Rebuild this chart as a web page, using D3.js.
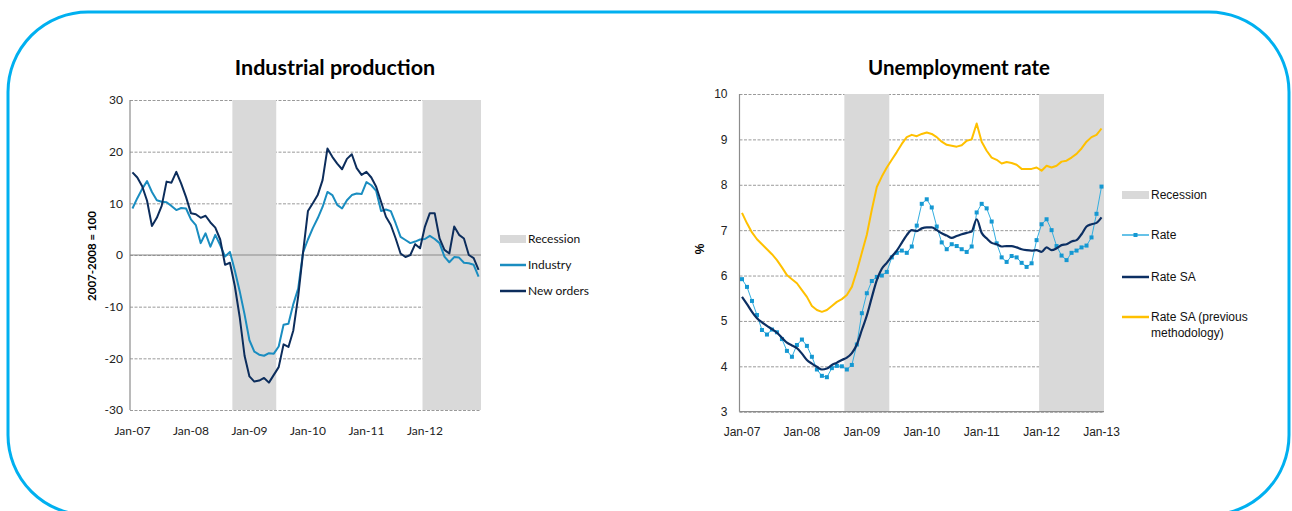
<!DOCTYPE html>
<html>
<head>
<meta charset="utf-8">
<script src="https://cdn.jsdelivr.net/npm/d3@7"></script>
<style>
  html, body { margin: 0; padding: 0; background: #fff; }
  svg { display: block; }
</style>
</head>
<body>
<svg id="chart" width="1292" height="511"></svg>
<script>
// ---- data ----
// Industrial production, 2007-2008 = 100, monthly Jan-07 .. Dec-12
var industry = [
  9.0, 11.0, 12.8, 14.3, 12.2, 10.6, 10.3, 10.2, 9.5, 8.7, 9.1, 9.0,
  6.9, 5.8, 2.3, 4.2, 1.6, 3.9, 1.9, -0.3, 0.6, -3.0, -7.0, -11.5,
  -16.5, -18.7, -19.3, -19.5, -19.0, -19.1, -17.7, -13.5, -13.3, -9.5, -6.5, 0.5,
  3.0, 5.2, 7.1, 9.3, 12.2, 11.6, 9.7, 9.0, 10.6, 11.6, 11.9, 11.8,
  14.1, 13.5, 12.4, 8.5, 8.8, 8.5, 6.1, 3.5, 2.9, 2.3, 2.6, 3.0,
  3.1, 3.7, 3.1, 2.3, -0.3, -1.4, -0.4, -0.5, -1.5, -1.6, -1.9, -4.2
];
var newOrders = [
  16.0, 15.0, 13.3, 10.5, 5.6, 7.2, 9.5, 14.2, 14.0, 16.1, 13.8, 11.2,
  8.1, 7.9, 7.2, 7.6, 6.3, 5.3, 3.0, -1.9, -1.5, -6.0, -12.0, -19.5,
  -23.5, -24.5, -24.3, -23.8, -24.7, -23.2, -21.7, -17.3, -17.8, -14.6, -8.0, 0.5,
  8.5, 10.0, 11.6, 14.5, 20.6, 19.0, 17.7, 16.6, 18.6, 19.5, 16.8, 15.5,
  16.1, 15.0, 13.2, 10.3, 7.4, 5.8, 3.2, 0.3, -0.4, 0.0, 2.1, 1.3,
  5.5, 8.1, 8.1, 3.2, 1.0, 0.3, 5.5, 3.9, 3.2, 0.0, -0.6, -2.9
];

// Unemployment rate, %, monthly Jan-07 .. Jan-13
var rate = [
  5.92, 5.75, 5.44, 5.13, 4.80, 4.70, 4.81, 4.75, 4.60, 4.34, 4.21, 4.47,
  4.59, 4.45, 4.21, 3.93, 3.79, 3.76, 3.96, 4.01, 4.00, 3.93, 4.03, 4.48,
  5.17, 5.61, 5.88, 5.97, 6.00, 6.08, 6.40, 6.50, 6.55, 6.50, 6.64, 7.10,
  7.58, 7.68, 7.50, 7.08, 6.73, 6.58, 6.69, 6.65, 6.58, 6.52, 6.64, 7.39,
  7.58, 7.48, 7.19, 6.71, 6.40, 6.30, 6.43, 6.40, 6.28, 6.19, 6.27, 6.78,
  7.13, 7.24, 7.00, 6.65, 6.44, 6.34, 6.50, 6.55, 6.62, 6.66, 6.84, 7.36,
  7.96
];
var rateSA = [
  5.53, 5.37, 5.20, 5.06, 4.97, 4.89, 4.82, 4.74, 4.63, 4.52, 4.46, 4.40,
  4.28, 4.14, 4.06, 3.99, 3.93, 3.95, 4.03, 4.08, 4.14, 4.19, 4.29, 4.48,
  4.80, 5.12, 5.52, 5.90, 6.15, 6.28, 6.42, 6.55, 6.72, 6.89, 7.00, 6.98,
  7.04, 7.06, 7.06, 7.00, 6.93, 6.88, 6.83, 6.87, 6.91, 6.94, 6.97, 7.24,
  6.94, 6.82, 6.72, 6.69, 6.64, 6.65, 6.65, 6.62, 6.58, 6.56, 6.55, 6.56,
  6.52, 6.62, 6.56, 6.60, 6.67, 6.69, 6.75, 6.78, 6.91, 7.08, 7.13, 7.16,
  7.28
];
var rateSAPrev = [
  7.38, 7.15, 6.95, 6.80, 6.69, 6.58, 6.47, 6.34, 6.18, 6.01, 5.92, 5.83,
  5.68, 5.53, 5.33, 5.24, 5.20, 5.24, 5.33, 5.42, 5.48, 5.57, 5.75, 6.10,
  6.50, 6.90, 7.45, 7.95, 8.18, 8.38, 8.55, 8.72, 8.90, 9.05, 9.10, 9.07,
  9.12, 9.15, 9.12, 9.05, 8.95, 8.88, 8.86, 8.84, 8.87, 8.97, 9.00, 9.35,
  8.95, 8.75, 8.60, 8.55, 8.47, 8.50, 8.48, 8.44, 8.35, 8.35, 8.35, 8.38,
  8.31, 8.42, 8.38, 8.42, 8.51, 8.53, 8.60, 8.68, 8.80, 8.95, 9.05, 9.10,
  9.24
];

// recession periods, first and last month (inclusive)
var recessions = [["2008-10", "2009-06"], ["2012-01", "2013-01"]];

var ipTicks = [30, 20, 10, 0, -10, -20, -30];
var urTicks = [10, 9, 8, 7, 6, 5, 4, 3];

var parseMonth = d3.timeParse("%Y-%m");
var fmtMonth = d3.timeFormat("%b-%y");

var monthsIP = d3.timeMonth.range(new Date(2007, 0, 1), new Date(2013, 0, 1));
var monthsUR = d3.timeMonth.range(new Date(2007, 0, 1), new Date(2013, 1, 1));

var svg = d3.select("#chart");

// outer rounded frame
svg.append("rect")
    .attr("x", 8).attr("y", 12)
    .attr("width", 1281).attr("height", 503)
    .attr("rx", 80).attr("ry", 80)
    .attr("fill", "none")
    .attr("stroke", "#00b0f0")
    .attr("stroke-width", 3);

function drawPanel(opt) {
    var g = svg.append("g");
    var months = opt.months;

    var x = d3.scaleBand()
        .domain(months.map(function (d) { return +d; }))
        .range([opt.left, opt.right])
        .padding(0);
    var y = d3.scaleLinear()
        .domain(opt.yDomain)
        .range([opt.bottom, opt.top]);
    var cx = function (i) { return x(+months[i]) + x.bandwidth() / 2; };

    // gridlines + tick labels
    var yAxis = d3.axisLeft(y)
        .tickValues(opt.yTicks)
        .tickFormat(function (d) { return String(d); })
        .tickSize(-(opt.right - opt.left))
        .tickPadding(opt.yPad);
    var gy = g.append("g")
        .attr("transform", "translate(" + opt.left + ",0)")
        .call(yAxis);
    gy.select(".domain").remove();
    gy.selectAll(".tick line")
        .attr("stroke", "#9a9a9a")
        .attr("stroke-dasharray", "3,1.5")
        .attr("stroke-width", 1);
    gy.selectAll(".tick text")
        .attr("font-family", opt.font)
        .attr("font-size", opt.fontSize)
        .attr("fill", "#222");

    // recession shading
    recessions.forEach(function (r) {
        var a = +parseMonth(r[0]), b = +parseMonth(r[1]);
        var x0 = x(a) !== undefined ? x(a) : opt.left;
        var x1 = x(b) !== undefined ? x(b) + x.bandwidth() : opt.right;
        g.append("rect")
            .attr("x", x0).attr("y", opt.top)
            .attr("width", x1 - x0).attr("height", opt.bottom - opt.top)
            .attr("fill", "#d9d9d9");
    });

    // solid axis lines
    g.append("line")
        .attr("x1", opt.left).attr("x2", opt.right)
        .attr("y1", y(opt.baseValue)).attr("y2", y(opt.baseValue))
        .attr("stroke", "#8c8c8c").attr("stroke-width", 1.2);
    g.append("line")
        .attr("x1", opt.left).attr("x2", opt.left)
        .attr("y1", opt.top).attr("y2", opt.bottom)
        .attr("stroke", "#8c8c8c").attr("stroke-width", 1.2);

    // x axis labels
    var xAxis = d3.axisBottom(x)
        .tickValues(months.filter(function (d) { return d.getMonth() === 0; }).map(function (d) { return +d; }))
        .tickFormat(function (d) { return fmtMonth(new Date(d)); })
        .tickSize(0)
        .tickPadding(opt.xPad);
    var gx = g.append("g")
        .attr("transform", "translate(0," + opt.bottom + ")")
        .call(xAxis);
    gx.select(".domain").remove();
    gx.selectAll(".tick text")
        .attr("font-family", opt.font)
        .attr("font-size", opt.fontSize)
        .attr("fill", "#222");

    // title
    g.append("text")
        .attr("x", opt.titleX).attr("y", 75)
        .attr("text-anchor", "middle")
        .attr("font-family", "Lato, sans-serif")
        .attr("font-weight", "bold")
        .attr("font-size", opt.titleSize)
        .attr("fill", "#000")
        .text(opt.title);

    // y label
    g.append("text")
        .attr("transform", "translate(" + opt.yLabelX + "," + opt.yLabelY + ") rotate(-90)")
        .attr("text-anchor", "middle")
        .attr("font-family", opt.yLabelFont)
        .attr("font-weight", "bold")
        .attr("font-size", opt.yLabelSize)
        .attr("fill", "#000")
        .text(opt.yLabel);

    // series
    opt.series.forEach(function (s) {
        var line = d3.line()
            .x(function (d, i) { return cx(i); })
            .y(function (d) { return y(d); })
            .curve(s.curve || d3.curveLinear);
        g.append("path")
            .datum(s.values)
            .attr("d", line)
            .attr("fill", "none")
            .attr("stroke", s.color)
            .attr("stroke-width", s.width)
            .attr("stroke-linejoin", "round");
        if (s.marker) {
            g.selectAll(null)
                .data(s.values)
                .enter().append("rect")
                .attr("x", function (d, i) { return cx(i) - 2; })
                .attr("y", function (d) { return y(d) - 2; })
                .attr("width", 4).attr("height", 4)
                .attr("fill", s.markerColor);
        }
    });

    // legend
    var lg = g.append("g");
    lg.append("rect")
        .attr("x", opt.legendX).attr("y", opt.legendY[0] - 4)
        .attr("width", opt.legendW).attr("height", 8)
        .attr("fill", "#d9d9d9");
    var items = [{name: "Recession"}].concat(opt.series);
    items.forEach(function (s, k) {
        var ly = opt.legendY[k];
        if (k > 0) {
            lg.append("line")
                .attr("x1", opt.legendX).attr("x2", opt.legendX + opt.legendW)
                .attr("y1", ly).attr("y2", ly)
                .attr("stroke", s.color)
                .attr("stroke-width", s.marker ? 1.5 : 2.5);
            if (s.marker) {
                lg.append("rect")
                    .attr("x", opt.legendX + opt.legendW / 2 - 2)
                    .attr("y", ly - 2)
                    .attr("width", 4).attr("height", 4)
                    .attr("fill", s.markerColor);
            }
        }
        var t = lg.append("text")
            .attr("y", ly)
            .attr("font-family", opt.font)
            .attr("font-size", opt.fontSize)
            .attr("fill", "#111");
        var lines = (s.legendName || s.name).split("\n");
        lines.forEach(function (txt, j) {
            t.append("tspan")
                .attr("x", opt.legendX + opt.legendW + 2)
                .attr("dy", j === 0 ? "0.35em" : "1.3em")
                .text(txt);
        });
    });
}

drawPanel({
    months: monthsIP,
    left: 130, right: 481, top: 100, bottom: 410,
    yDomain: [-30, 30], yTicks: ipTicks, baseValue: 0,
    yPad: 7, xPad: 16,
    font: "Lato, sans-serif", fontSize: 12,
    title: "Industrial production", titleX: 335, titleSize: 21.5,
    yLabel: "2007-2008 = 100", yLabelX: 96, yLabelY: 256,
    yLabelFont: "Lato, sans-serif", yLabelSize: 11.5,
    legendX: 500, legendW: 26, legendY: [239, 265, 291],
    series: [
        {name: "Industry", values: industry, color: "#1a8dc0", width: 2},
        {name: "New orders", values: newOrders, color: "#0c2d5c", width: 2}
    ]
});

drawPanel({
    months: monthsUR,
    left: 739.5, right: 1104, top: 94, bottom: 411.7,
    yDomain: [3, 10], yTicks: urTicks, baseValue: 3,
    yPad: 12, xPad: 16,
    font: "'Liberation Sans', Arial, sans-serif", fontSize: 12,
    title: "Unemployment rate", titleX: 959, titleSize: 20.5,
    yLabel: "%", yLabelX: 704, yLabelY: 249,
    yLabelFont: "'Liberation Sans', Arial, sans-serif", yLabelSize: 12,
    legendX: 1122, legendW: 27, legendY: [195, 235, 277, 317],
    series: [
        {name: "Rate", values: rate, color: "#33aee0", width: 1, marker: true, markerColor: "#1598d2"},
        {name: "Rate SA", values: rateSA, color: "#0c2f63", width: 2.2, curve: d3.curveMonotoneX},
        {name: "Rate SA (previous methodology)", legendName: "Rate SA (previous\nmethodology)",
         values: rateSAPrev, color: "#ffc000", width: 2}
    ]
});
</script>
</body>
</html>
